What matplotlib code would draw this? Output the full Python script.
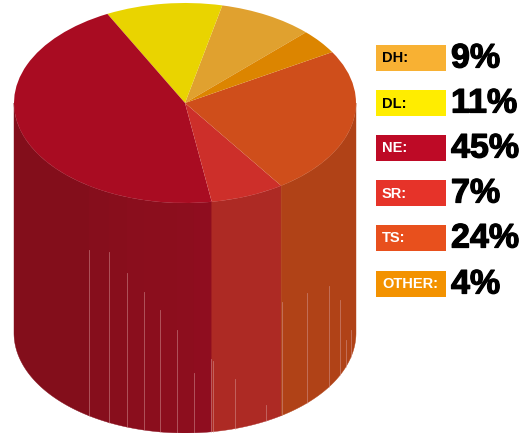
import matplotlib
matplotlib.use('Agg')
from matplotlib import pyplot as plt
from matplotlib import patheffects
from matplotlib.patches import Polygon, Rectangle
import numpy as np

labels = ['DH:', 'DL:', 'NE:', 'SR:', 'TS:', 'OTHER:']
values = [9, 11, 45, 7, 24, 4]
percent_labels = ['9%', '11%', '45%', '7%', '24%', '4%']
key_colors = ['#f8b133', '#ffed00', '#be0a26', '#e63329', '#e8501d', '#f39200']
top_colors = ['#e0a12f', '#e9d400', '#a90c22', '#cd2f2a', '#cf4e1b', '#dc8500']
side_colors = ['#a87a20', '#a89a00', '#860e1b', '#ad2a24', '#b04217', '#a86400']
text_colors = ['k', 'k', 'w', 'w', 'w', 'w']

# seams of the side wall: x pixel and y pixel where the pale part starts
seam_x = [89, 109, 127, 144, 160, 177, 194, 211, 213, 235, 266, 282, 307, 329, 340, 346, 351]
seam_y = [250, 252, 273, 292, 310, 330, 373, 359, 361, 379, 405, 302, 293, 286, 300, 340, 330]
ne_shades = ['#830e1b', '#860e1c', '#880e1c', '#8a0e1d', '#8b0e1d', '#8c0e1d', '#8d0e1e', '#8f0d1f']
ne_edges = [14, 89, 109, 127, 144, 160, 177, 194, 212]

cx, cy, rx, ry = 185, 103, 171, 100
depth = 230
start_angle = 45

fig = plt.figure(figsize=(5.19, 4.33), dpi=100)
ax = fig.add_axes([0, 0, 1, 1])


def px_x(x):
	return (x - cx) / rx


def px_y(y):
	return (cy - y) / ry


def side_patch(t1, t2, color):
	t = np.linspace(t1, t2, 60)
	x, y = np.cos(t), np.sin(t)
	xy = np.column_stack([np.r_[x, x[::-1]], np.r_[y, y[::-1] - depth / ry]])
	ax.add_patch(Polygon(xy, closed=True, facecolor=color, edgecolor=color, linewidth=0.3, zorder=1))


# NE wall is split in facets
for i in range(len(ne_shades)):
	t1 = np.pi + np.arccos(-px_x(ne_edges[i]))
	t2 = np.pi + np.arccos(-px_x(ne_edges[i + 1]))
	side_patch(t1, t2, ne_shades[i])

# side wall of the others, only the front half of the cylinder shows
edges = start_angle + np.r_[0, np.cumsum(values)] * 3.6
for i in range(len(values)):
	for k in (0, 360):
		a1, a2 = max(edges[i] - k, 180), min(edges[i + 1] - k, 360)
		if a2 > a1 and labels[i] != 'NE:':
			side_patch(np.radians(a1), np.radians(a2), side_colors[i])

for x, y in zip(seam_x, seam_y):
	xx = px_x(x)
	bottom = -np.sqrt(1 - xx ** 2) - depth / ry
	ax.plot([xx, xx], [px_y(y), bottom], color='#d9a0a0', linewidth=0.6, alpha=0.55, zorder=2)

ax.pie(values, colors=top_colors, startangle=start_angle, radius=1, center=(0, 0),
	wedgeprops={'linewidth': 0, 'zorder': 3})

ax.set_aspect('auto')
ax.set_xlim(-cx / rx, (519 - cx) / rx)
ax.set_ylim((cy - 433) / ry, cy / ry)
ax.axis('off')

# key on the right, in figure pixels
box_top = [45, 90, 135, 180, 225, 271]
key = fig.add_axes([0, 0, 1, 1])
key.set_xlim(0, 519)
key.set_ylim(433, 0)
key.axis('off')
thick = [patheffects.withStroke(linewidth=0.9, foreground='k')]
for s, p, c, tc, y in zip(labels, percent_labels, key_colors, text_colors, box_top):
	key.add_patch(Rectangle((376, y), 70, 26, facecolor=c, edgecolor='none'))
	key.text(382, y + 13.5, s, color=tc, fontsize=10.5, fontweight='bold',
		family='Liberation Sans', ha='left', va='center')
	key.text(451, y + 14, p, color='k', fontsize=24.5, fontweight='bold',
		family='Liberation Sans', ha='left', va='center', path_effects=thick)

fig.savefig('out.png', dpi=100)
